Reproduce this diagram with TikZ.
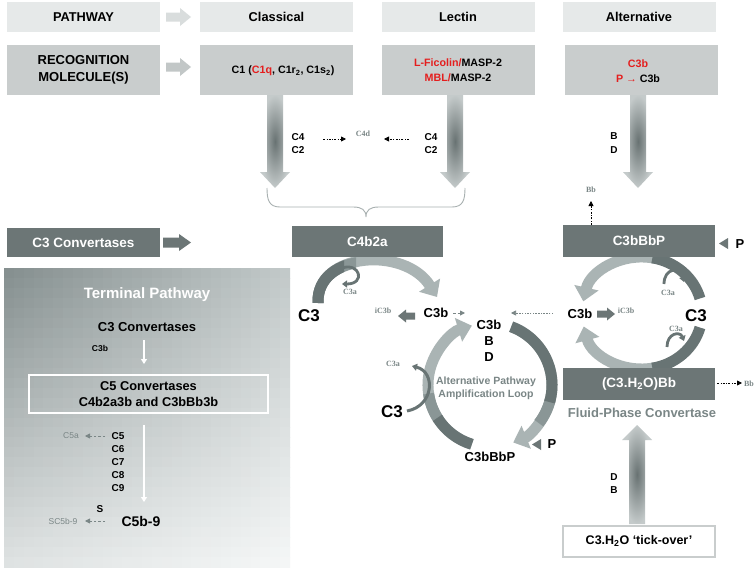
\documentclass[tikz,border=0pt]{standalone}
\usepackage{fontspec}
\setmainfont{Liberation Sans}
\newfontfamily\smallserif{Liberation Serif}
\usetikzlibrary{arrows.meta,calc}
\definecolor{hdrgray}{HTML}{E6E9E9}
\definecolor{recgray}{HTML}{C9CDCD}
\definecolor{darkbox}{HTML}{6C7676}
\definecolor{lightarc}{HTML}{AAB4B4}
\definecolor{midarc}{HTML}{8A9696}
\definecolor{darkarc}{HTML}{687474}
\definecolor{graytext}{HTML}{7A8686}
\definecolor{redtext}{HTML}{E41E1E}
\definecolor{hdrarrow}{HTML}{D9DDDD}
\definecolor{recarrow}{HTML}{C2C7C7}
\definecolor{shadein}{HTML}{687272}
\definecolor{shadeout}{HTML}{C4CACA}
\definecolor{braceg}{HTML}{A8B0B0}
\definecolor{tpUL}{HTML}{869090}
\definecolor{tpUR}{HTML}{C2C9C9}
\definecolor{tpLL}{HTML}{DEE2E2}
\definecolor{tpLR}{HTML}{F4F6F6}
\newcommand{\bsz}[2]{\fontsize{#1}{#2}\selectfont\bfseries}
\newcommand{\hblock}[7]{\fill[#2,shift={#1},xscale=#7] (0,-#5) -- (#4,-#5) -- (#4,-#6) -- (#3,0) -- (#4,#6) -- (#4,#5) -- (0,#5) -- cycle;}
\newcommand{\vgrad}[4]{\shade[inner color=shadein,outer color=shadeout] (#1-8,#2) -- (#1-8,#3) -- (#1-15,#3) -- (#1,#4) -- (#1+15,#3) -- (#1+8,#3) -- (#1+8,#2) -- cycle;}
\begin{document}
\begin{tikzpicture}[x=1pt,y=-1pt,
  hdr/.style={fill=hdrgray,minimum width=153,minimum height=30,inner sep=0,font=\bsz{12.8}{15}},
  rec/.style={fill=recgray,minimum width=153,minimum height=50,inner sep=0,align=center},
  dbox/.style={fill=darkbox,text=white,minimum width=152,minimum height=31,inner sep=0,font=\bsz{13.5}{16}},
  lbl/.style={inner sep=0,font=\bsz{10}{13}},
  gsm/.style={inner sep=0,text=graytext,font=\smallserif\bfseries\fontsize{8}{9}\selectfont},
  gsans/.style={inner sep=0,text=graytext,font=\fontsize{8.5}{10}\selectfont},
  big/.style={inner sep=0,font=\bsz{17}{20}},
  mid/.style={inner sep=0,font=\bsz{13}{16}},
  dashdot/.style={draw=black,line width=0.8,dash pattern=on 2pt off 1.5pt on 0.7pt off 1.5pt,-{Triangle[length=5pt,width=5pt]}},
  gdash/.style={draw=graytext,line width=0.9,dash pattern=on 2.5pt off 2pt,-{Triangle[length=5pt,width=5pt]}},
  wline/.style={draw=white,line width=2,-{Triangle[length=5pt,width=6pt]}},
  arcw/.style={line width=11},
  bigtip/.style={-{Triangle[width=24pt,length=14pt]}},
  curl/.style={draw=darkarc,line width=2.8,-{Triangle[width=7pt,length=5pt]}}]
\useasboundingbox (0,0) rectangle (756,570);
\fill[white] (0,0) rectangle (756,570);

% ---------- header row
\node[hdr] (pw) at (83.5,17) {PATHWAY};
\node[hdr] (cl) at (276.5,17) {Classical};
\node[hdr] (le) at (458,17) {Lectin};
\node[hdr] (al) at (639,17) {Alternative};
\hblock{(166,17)}{hdrarrow}{25}{14}{4.5}{9}{1}

% ---------- recognition row
\node[rec,font=\bsz{13}{17.5}] (rm) at (83.5,70) {RECOGNITION\\MOLECULE(S)};
\node[rec] (clr) at (276.5,70) {};
\node[inner sep=0,font=\bsz{10.7}{14}] (c1) at (283,71) {C1 (\textcolor{redtext}{C1q}, C1r\textsubscript{2}, C1s\textsubscript{2})};
\node[rec,font=\bsz{10.7}{14.7}] (ler) at (458,70) {\textcolor{redtext}{L-Ficolin/}MASP-2\\\textcolor{redtext}{MBL/}MASP-2};
\node[rec] (alr) at (641.5,70) {};
\node[inner sep=0,align=center,font=\bsz{10.7}{14.7}] (alt) at (638,71.5) {\textcolor{redtext}{C3b}\\\textcolor{redtext}{P →} C3b};
\hblock{(166,67)}{recarrow}{25}{14}{4.5}{9}{1}

% ---------- gradient arrows
\vgrad{275}{95}{172}{188}
\vgrad{455}{95}{172}{188}
\vgrad{638}{95}{172}{188}
\vgrad{637}{524}{440}{425}

% C4 / C2 labels
\node[lbl] (c4a) at (298,137) {C4};
\node[lbl] (c2a) at (298,150) {C2};
\node[lbl] (c4b) at (431,137) {C4};
\node[lbl] (c2b) at (431,150) {C2};
\node[gsm] (c4d) at (363,134) {C4d};
\coordinate (d1s) at (323,139); \coordinate (d1e) at (346,139);
\coordinate (d2s) at (409,139); \coordinate (d2e) at (384,139);
\draw[dashdot] (d1s) -- (d1e);
\draw[dashdot] (d2s) -- (d2e);
\node[lbl] (bl) at (614,136) {B};
\node[lbl] (dl) at (614,150) {D};

% brace
\draw[braceg,line width=0.9] (267,188) .. controls (267,200) and (269,207) .. (280,207) -- (353,207)
  .. controls (362,207) and (366,210) .. (366,217) .. controls (366,210) and (370,207) .. (379,207)
  -- (452,207) .. controls (463,207) and (465,200) .. (465,188);

% ---------- C3 convertases row
\node[dbox,minimum width=153,minimum height=29] (c3conv) at (83.5,242.5) {C3 Convertases};
\hblock{(163,242.5)}{darkbox}{28}{16}{5}{8.5}{1}

% ---------- terminal pathway (bilinear gradient built from cells)
\begin{scope}
  \clip (4,268) rectangle (290,567);
  \foreach \i in {0,...,28} {
    \foreach \j in {0,...,29} {
      \pgfmathsetmacro\pu{100-100*\i/28}
      \pgfmathsetmacro\pv{100-100*\j/29}
      \colorlet{ctop}{tpUL!\pu!tpUR}
      \colorlet{cbot}{tpLL!\pu!tpLR}
      \colorlet{ccell}{ctop!\pv!cbot}
      \fill[ccell] (4+\i*9.862,268+\j*9.967) rectangle ++(10.4,10.5);
    }
  }
\end{scope}
\node[inner sep=0,text=white,font=\bsz{15}{18}] (tp) at (147,295) {Terminal Pathway};
\node[inner sep=0,font=\bsz{13}{16}] (tc3) at (147,327) {C3 Convertases};
\node[inner sep=0,font=\bsz{8.5}{10}] (tc3b) at (100,348) {C3b};
\coordinate (w1s) at (144,340); \coordinate (w1e) at (144,364);
\draw[wline] (w1s) -- (w1e);
\node[draw=white,line width=1.8,minimum width=239,minimum height=38,inner sep=0,align=center,font=\bsz{12.8}{16}] (c5box) at (148.5,394) {C5 Convertases\\C4b2a3b and C3bBb3b};
\coordinate (w2s) at (144,425); \coordinate (w2e) at (144,502);
\draw[wline] (w2s) -- (w2e);
\node[lbl] (c5) at (118,436) {C5};
\node[lbl] (c6) at (118,449) {C6};
\node[lbl] (c7) at (118,462) {C7};
\node[lbl] (c8) at (118,475) {C8};
\node[lbl] (c9) at (118,488) {C9};
\node[gsans] (c5a) at (71,436) {C5a};
\coordinate (g1s) at (105,436); \coordinate (g1e) at (85,436);
\draw[gdash] (g1s) -- (g1e);
\node[lbl] (s) at (100,509) {S};
\node[inner sep=0,font=\bsz{14}{16}] (c5b9) at (141,521) {C5b-9};
\node[gsans] (sc5b9) at (63,521) {SC5b-9};
\coordinate (g2s) at (105,521); \coordinate (g2e) at (85,521);
\draw[gdash] (g2s) -- (g2e);

% ---------- classical C3 arc
\draw[arcw,lightarc,bigtip] (318,303) .. controls (316,252) and (405,246) .. (437,297);
\begin{scope}
  \clip (300,240) rectangle (356,320);
  \draw[arcw,midarc] (318,303) .. controls (316,252) and (405,246) .. (437,297);
\end{scope}
\begin{scope}
  \clip (300,240) rectangle (344,320);
  \draw[arcw,darkarc] (318,303) .. controls (316,252) and (405,246) .. (437,297);
\end{scope}
\draw[curl] (342,268) .. controls (360,262) and (366,284) .. (342,284);

% ---------- amplification loop
\coordinate (lc) at (490,385);
\draw[arcw,lightarc,bigtip] ($(lc)+(107:62)$) arc[start angle=107,end angle=253,radius=62];
\draw[arcw,midarc] ($(lc)+(146:62)$) arc[start angle=146,end angle=172,radius=62];
\draw[arcw,darkarc] ($(lc)+(107:62)$) arc[start angle=107,end angle=148,radius=62];
\draw[arcw,lightarc,bigtip] ($(lc)+(290:62)$) arc[start angle=290,end angle=428,radius=62];
\draw[arcw,midarc] ($(lc)+(374:62)$) arc[start angle=374,end angle=398,radius=62];
\draw[arcw,darkarc] ($(lc)+(290:62)$) arc[start angle=290,end angle=376,radius=62];
\draw[draw=darkarc,line width=3,-{Triangle[width=7pt,length=5pt]}] (407,411) .. controls (434,406) and (436,372) .. (412,366);

% ---------- right C3 arcs
\coordinate (rc) at (642,313);
\draw[arcw,lightarc,bigtip] ($(rc)+(282:60 and 56)$) arc[start angle=282,end angle=192,x radius=60,y radius=56];
\draw[arcw,darkarc] ($(rc)+(345:60 and 56)$) arc[start angle=345,end angle=280,x radius=60,y radius=56];
\draw[arcw,lightarc,bigtip] ($(rc)+(78:60 and 56)$) arc[start angle=78,end angle=166,x radius=60,y radius=56];
\draw[arcw,darkarc] ($(rc)+(15:60 and 56)$) arc[start angle=15,end angle=80,x radius=60,y radius=56];
\draw[curl] (664,284) .. controls (664,268) and (680,266) .. (684,282);
\draw[curl] (667,347) .. controls (667,333) and (680,331) .. (684,341);

% ---------- dark boxes
\node[dbox,minimum width=151,minimum height=31] (c4b2a) at (367.5,241.5) {C4b2a};
\node[dbox,minimum width=152,minimum height=32] (c3bbbp) at (639,241) {C3bBbP};
\node[dbox,minimum width=152,minimum height=32] (fluid) at (639,384) {(C3.H\textsubscript{2}O)Bb};
\node[draw=recgray,line width=2,fill=white,minimum width=152,minimum height=31,inner sep=0,font=\bsz{12.5}{15}] (tick) at (639,541) {C3.H\textsubscript{2}O ‘tick-over’};

% P markers
\fill[darkbox] (728,238) -- (728,249) -- (719,243.5) -- cycle;
\node[mid] (p1) at (740,244) {P};
\fill[darkbox] (541,439) -- (541,450) -- (532,444.5) -- cycle;
\node[mid] (p2) at (552,444) {P};

% Bb arrows
\node[gsm] (bbtop) at (591,190) {Bb};
\coordinate (bbs) at (591,225); \coordinate (bbe) at (591,201);
\draw[dashdot] (bbs) -- (bbe);
\node[gsm] (bbr) at (749,384) {Bb};
\coordinate (bbrs) at (717,383); \coordinate (bbre) at (742,383);
\draw[dashdot] (bbrs) -- (bbre);

% ---------- central texts
\node[big] (c3l) at (309,316) {C3};
\node[gsm] (c3al) at (350,292) {C3a};
\node[mid] (c3bl) at (436,313) {C3b};
\node[gsm] (ic3bl) at (383,311) {iC3b};
\hblock{(415,316)}{darkbox}{17}{9}{3.5}{6.5}{-1}
\coordinate (sd1) at (453,313); \coordinate (sd2) at (465,313);
\draw[gdash] (sd1) -- (sd2);
\node[inner sep=0,align=center,font=\bsz{13}{16}] (c3bbd) at (489,341) {C3b\\B\\D};
\coordinate (ld1) at (553,313); \coordinate (ld2) at (511,313);
\draw[draw=graytext,line width=0.7,dash pattern=on 1.5pt off 1.2pt,-{Triangle[length=5pt,width=5pt]}] (ld1) -- (ld2);
\node[inner sep=0,align=center,text=graytext,font=\bsz{10.5}{13}] (loop) at (486,388) {Alternative Pathway\\Amplification Loop};
\node[big] (c3m) at (392,412) {C3};
\node[gsm] (c3am) at (393,364) {C3a};
\node[mid] (c3bbbp2) at (490,457) {C3bBbP};

% ---------- right texts
\node[mid] (c3br) at (580,314) {C3b};
\hblock{(597,314)}{darkbox}{18}{10}{3.5}{6.5}{1}
\node[gsm] (ic3br) at (626,311) {iC3b};
\node[big] (c3r) at (696,316) {C3};
\node[gsm] (c3ar1) at (668,293) {C3a};
\node[gsm] (c3ar2) at (676,329) {C3a};
\node[inner sep=0,text=graytext,font=\bsz{13}{16}] (fpc) at (642,413) {Fluid-Phase Convertase};
\node[lbl] (dd) at (614,477) {D};
\node[lbl] (bb2) at (614,490) {B};
\end{tikzpicture}
\end{document}
